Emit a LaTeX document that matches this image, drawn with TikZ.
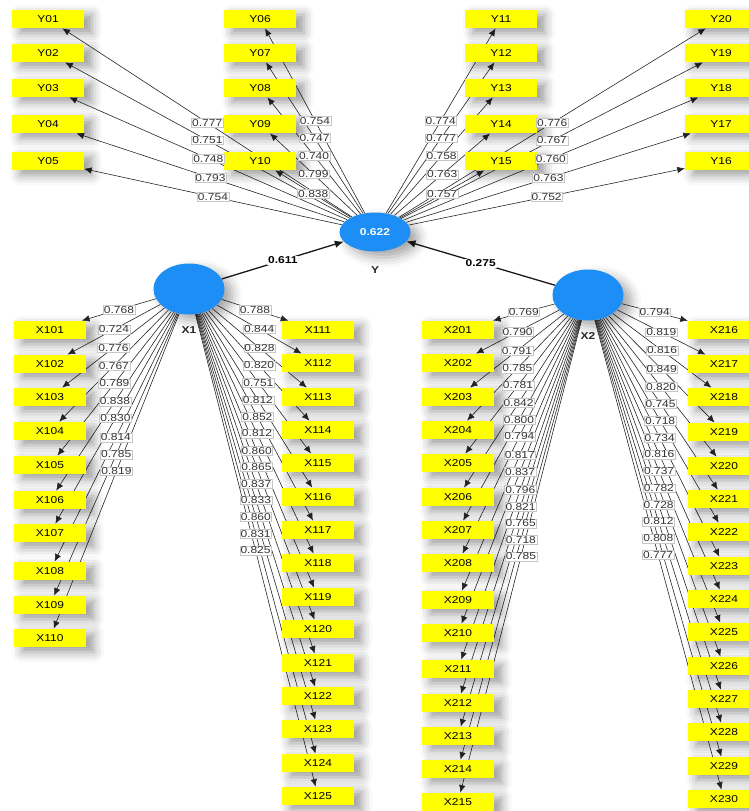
\documentclass[tikz,border=0pt]{standalone}
\usepackage{fontspec}
\setmainfont{Liberation Sans}[FakeStretch=1.2]
\usetikzlibrary{shapes.geometric,arrows.meta,shadows.blur}
\pgfdeclarelayer{bg}
\pgfsetlayers{bg,main}
\definecolor{plsblue}{RGB}{28,142,245}
\definecolor{plsyellow}{RGB}{255,255,0}
\newcommand\myload[3]{%
  \begin{pgfonlayer}{bg}\draw[ldline] (#1) -- (#2);\end{pgfonlayer}%
  \path (#1) -- (#2) node[lab] {#3};}
\begin{document}
\begin{tikzpicture}[x=1pt,y=-1pt,
  ind/.style={rectangle, fill=plsyellow, minimum width=72pt, minimum height=18.5pt,
    inner sep=0pt, font=\fontsize{10}{12}\selectfont, text=black,
    blur shadow={shadow xshift=8pt, shadow yshift=-5pt, shadow blur radius=10pt, shadow opacity=40}},
  lat/.style={ellipse, fill=plsblue, inner sep=0pt, minimum width=71pt,
    text=white, font=\fontsize{10}{12}\selectfont\bfseries,
    blur shadow={shadow xshift=8pt, shadow yshift=-6pt, shadow blur radius=10pt, shadow opacity=35}},
  ldline/.style={draw=black!85, line width=0.6pt, -{Latex[length=7.5pt,width=6.5pt]}},
  pathline/.style={draw=black!90, line width=1.3pt, -{Latex[length=9pt,width=7.5pt]}},
  lab/.style={midway, fill=white, draw=black!22, line width=0.3pt, inner sep=0.8pt,
    font=\fontsize{10}{11}\selectfont, text=black!80},
  plab/.style={midway, fill=white, inner sep=0.8pt, font=\fontsize{10}{11}\selectfont\bfseries, text=black},
  latname/.style={font=\fontsize{10}{12}\selectfont\bfseries, text=black!85, inner sep=0pt}
]
\useasboundingbox (0,0) rectangle (749,811);

% latent variables
\node[lat, minimum height=39pt] (Y) at (375,232) {0.622};
\node[lat, minimum height=51pt] (X1) at (189,289) {};
\node[lat, minimum height=51pt] (X2) at (588,295) {};
\node[latname] (Ylab) at (375,270) {Y};
\node[latname] (X1lab) at (189,330) {X1};
\node[latname] (X2lab) at (588,336) {X2};

% indicators of Y
\foreach \n/\yy in {Y01/19,Y02/53,Y03/88,Y04/124,Y05/161}
  \node[ind] (\n) at (48,\yy) {\n};
\foreach \n/\yy in {Y06/19,Y07/53,Y08/88,Y09/124,Y10/161}
  \node[ind] (\n) at (260,\yy) {\n};
\foreach \n/\yy in {Y11/19,Y12/53,Y13/88,Y14/124,Y15/161}
  \node[ind] (\n) at (501,\yy) {\n};
\foreach \n/\yy in {Y20/19,Y19/53,Y18/88,Y17/124,Y16/161}
  \node[ind] (\n) at (721,\yy) {\n};

% indicators of X1
\foreach \n/\yy in {X101/330,X102/364,X103/397,X104/431,X105/465,X106/500,X107/533,X108/571,X109/605,X110/638}
  \node[ind] (\n) at (50,\yy) {\n};
\foreach \n/\yy in {X111/330,X112/363,X113/397,X114/430,X115/463,X116/497,X117/530,X118/563,X119/597,X120/629,X121/663,X122/696,X123/729,X124/763,X125/796}
  \node[ind] (\n) at (318,\yy) {\n};

% indicators of X2
\foreach \n/\yy in {X201/330,X202/363,X203/397,X204/430,X205/463,X206/497,X207/530,X208/563,X209/600,X210/633,X211/669,X212/703,X213/736,X214/769,X215/802}
  \node[ind] (\n) at (458,\yy) {\n};
\foreach \n/\yy in {X216/330,X217/364,X218/397,X219/432,X220/466,X221/499,X222/532,X223/566,X224/599,X225/632,X226/666,X227/699,X228/732,X229/766,X230/799}
  \node[ind] (\n) at (724,\yy) {\n};

% outer loadings of Y
\foreach \n/\v in {Y01/0.777,Y02/0.751,Y03/0.748,Y04/0.793,Y05/0.754,
                   Y06/0.754,Y07/0.747,Y08/0.740,Y09/0.799,Y10/0.838,
                   Y11/0.774,Y12/0.777,Y13/0.758,Y14/0.763,Y15/0.757,
                   Y20/0.776,Y19/0.767,Y18/0.760,Y17/0.763,Y16/0.752}
  {\myload{Y}{\n}{\v}}

% outer loadings of X1
\foreach \n/\v in {X101/0.768,X102/0.724,X103/0.776,X104/0.767,X105/0.789,
                   X106/0.838,X107/0.830,X108/0.814,X109/0.785,X110/0.819,
                   X111/0.788,X112/0.844,X113/0.828,X114/0.820,X115/0.751,
                   X116/0.812,X117/0.852,X118/0.812,X119/0.860,X120/0.865,
                   X121/0.837,X122/0.833,X123/0.860,X124/0.831,X125/0.825}
  {\myload{X1}{\n}{\v}}

% outer loadings of X2
\foreach \n/\v in {X201/0.769,X202/0.790,X203/0.791,X204/0.785,X205/0.781,
                   X206/0.842,X207/0.800,X208/0.794,X209/0.817,X210/0.837,
                   X211/0.796,X212/0.821,X213/0.765,X214/0.718,X215/0.785,
                   X216/0.794,X217/0.819,X218/0.816,X219/0.849,X220/0.820,
                   X221/0.745,X222/0.718,X223/0.734,X224/0.816,X225/0.737,
                   X226/0.782,X227/0.728,X228/0.812,X229/0.808,X230/0.777}
  {\myload{X2}{\n}{\v}}

% structural paths
\begin{pgfonlayer}{bg}
  \draw[pathline] (X1) -- (Y);
  \draw[pathline] (X2) -- (Y);
\end{pgfonlayer}
\path (X1) -- (Y) node[plab] {0.611};
\path (X2) -- (Y) node[plab] {0.275};
\end{tikzpicture}
\end{document}
